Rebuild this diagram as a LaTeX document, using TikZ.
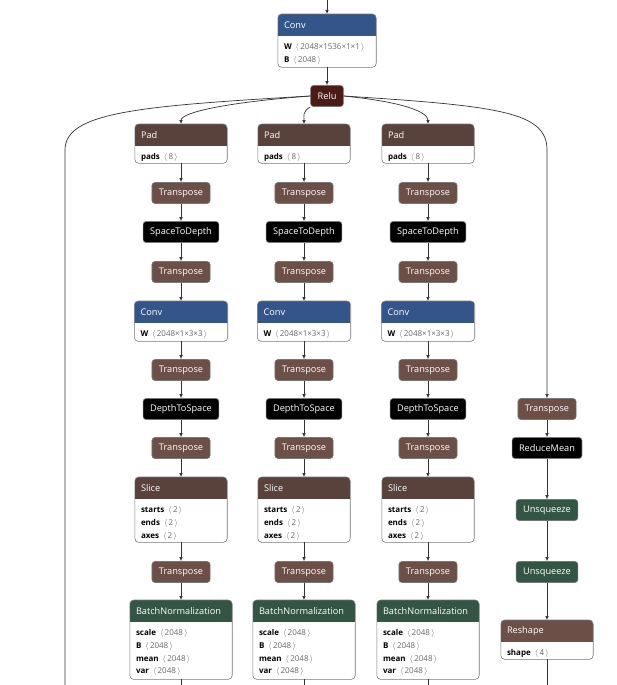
\documentclass[tikz,border=0pt]{standalone}
\usepackage{fontspec}
\setmainfont{Open Sans}
\usepackage{xcolor}
\usepackage{tikz}
\usetikzlibrary{arrows.meta}
\definecolor{convblue}{HTML}{33558A}
\definecolor{relured}{HTML}{4B1B16}
\definecolor{tensorbrown}{HTML}{59423B}
\definecolor{shapebrown}{HTML}{6C4F47}
\definecolor{normgreen}{HTML}{335544}
\definecolor{nodeline}{HTML}{777777}
\definecolor{edgegray}{HTML}{333333}
\definecolor{attrval}{HTML}{666666}
\tikzset{op/.style={rounded corners=3pt, draw=nodeline, line width=0.6pt, text=white,
           font=\fontsize{9.2}{11}\selectfont, minimum height=21pt, inner xsep=7pt, inner ysep=0pt},
         boxframe/.style={fill=white, inner sep=0pt},
         boxline/.style={draw=nodeline, line width=0.6pt},
         boxtitle/.style={anchor=west, inner sep=0pt, text=white, font=\fontsize{9.2}{11}\selectfont},
         attrtext/.style={anchor=north west, inner sep=0pt, align=left, font=\fontsize{8}{12.9}\selectfont},
         link/.style={draw=edgegray, line width=0.7pt},
         edge/.style={link, -{Latex[length=4pt,width=3.5pt]}}}
\newcommand{\av}[2]{\textbf{#1}\enspace\textcolor{attrval}{$\langle$\,#2\,$\rangle$}}
% name, centre x, top y, width, height, header colour, title, attributes
\newcommand{\attrbox}[8]{%
  \node[boxframe, minimum width=#4, minimum height=#5, anchor=north] (#1) at (#2,#3) {};
  \begin{scope}
    \clip[rounded corners=4pt] (#1.north west) rectangle (#1.south east);
    \fill[#6] (#1.north west) rectangle ([yshift=-22pt]#1.north east);
  \end{scope}
  \draw[boxline, rounded corners=4pt] (#1.north west) rectangle (#1.south east);
  \node[boxtitle] at ([shift={(6pt,-11pt)}]#1.north west) {#7};
  \node[attrtext] at ([shift={(6pt,-29pt)}]#1.north west) {#8};
}

\begin{document}
\begin{tikzpicture}[x=1pt, y=-1pt]
\useasboundingbox (0,0) rectangle (617,685);
% top
\coordinate (top) at (327,0);
\attrbox{conv}{327}{14}{98pt}{53pt}{convblue}{Conv}{\av{W}{2048×1536×1×1}\\ \av{B}{2048}}
\node[op, fill=relured] (relu) at (327,96) {Relu};
\draw[edge] (top) -- (conv.north);
\draw[edge] (conv) -- (relu);
% three branches
\foreach \i/\x in {1/181,2/304,3/428} {
  \attrbox{pad\i}{\x}{124}{92pt}{39pt}{tensorbrown}{Pad}{\av{pads}{8}}
  \node[op, fill=shapebrown] (tra\i) at (\x,193) {Transpose};
  \node[op, fill=black] (std\i) at (\x,232) {SpaceToDepth};
  \node[op, fill=shapebrown] (trb\i) at (\x,272) {Transpose};
  \attrbox{cv\i}{\x}{301}{93pt}{40pt}{convblue}{Conv}{\av{W}{2048×1×3×3}}
  \node[op, fill=shapebrown] (trc\i) at (\x,370) {Transpose};
  \node[op, fill=black] (dts\i) at (\x,409) {DepthToSpace};
  \node[op, fill=shapebrown] (trd\i) at (\x,448) {Transpose};
  \attrbox{slice\i}{\x}{477}{92pt}{65pt}{tensorbrown}{Slice}{\av{starts}{2}\\ \av{ends}{2}\\ \av{axes}{2}}
  \node[op, fill=shapebrown] (tre\i) at (\x,572) {Transpose};
  \attrbox{bn\i}{\x}{600}{102pt}{79pt}{normgreen}{BatchNormalization}{\av{scale}{2048}\\ \av{B}{2048}\\ \av{mean}{2048}\\ \av{var}{2048}}
  \coordinate (bnend\i) at (\x,685);
  \foreach \a/\b in {pad/tra,tra/std,std/trb,trb/cv,cv/trc,trc/dts,dts/trd,trd/slice,slice/tre,tre/bn}
    \draw[edge] (\a\i) -- (\b\i);
  \draw[link] (bn\i) -- (bnend\i);
}
% right branch
\node[op, fill=shapebrown] (rtr) at (547,409) {Transpose};
\node[op, fill=black] (rmean) at (547,448) {ReduceMean};
\node[op, fill=normgreen] (unsqa) at (547,510) {Unsqueeze};
\node[op, fill=normgreen] (unsqb) at (547,572) {Unsqueeze};
\attrbox{reshape}{547}{620}{92pt}{39pt}{shapebrown}{Reshape}{\av{shape}{4}}
\coordinate (rsend) at (547,685);
\draw[edge] (rtr) -- (rmean);
\draw[edge] (rmean) -- (unsqa);
\draw[edge] (unsqa) -- (unsqb);
\draw[edge] (unsqb) -- (reshape);
\draw[link] (reshape) -- (rsend);
% edges out of relu
\coordinate (leftend) at (65,685);
\draw[link] (relu.west) .. controls (140,106) and (65,112) .. (65,150) -- (leftend);
\draw[edge] (relu.west) .. controls +(-80,6) and +(0,-12) .. (pad1.north);
\draw[edge] (relu.south west) .. controls +(-8,5) and +(0,-8) .. (pad2.north);
\draw[edge] (relu.east) .. controls +(60,6) and +(0,-12) .. (pad3.north);
\draw[edge] (relu.east) .. controls (500,106) and (547,112) .. (547,150) -- (rtr.north);
\end{tikzpicture}
\end{document}
